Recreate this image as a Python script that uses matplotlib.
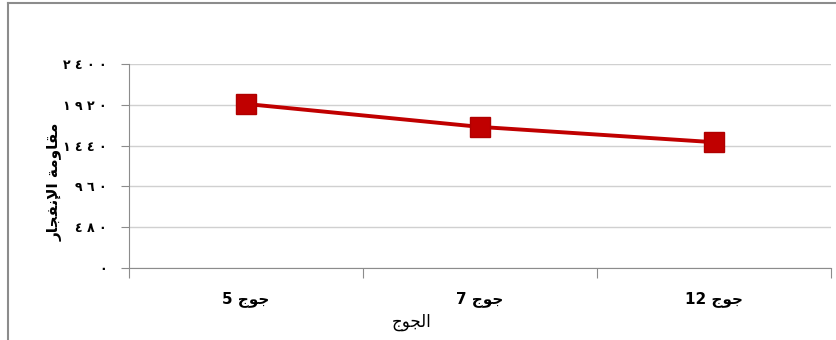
import matplotlib
matplotlib.use("Agg")
import matplotlib.pyplot as plt
from matplotlib.lines import Line2D

# Arabic strings are written in visual order with presentation forms,
# since matplotlib does no shaping / bidi on its own
JOJ = "\uFE9D\uFEEE\uFE9F"  # جوج
categories = ["5 " + JOJ, "7 " + JOJ, "12 " + JOJ]
values = [1930, 1660, 1480]
y_ticks = [0, 480, 960, 1440, 1920, 2400]
y_tick_labels = ["٠", "٤ ٨ ٠", "٩ ٦ ٠", "١ ٤ ٤ ٠", "١ ٩ ٢ ٠", "٢ ٤ ٠ ٠"]
x_title = "\uFE9D\uFEEE\uFEA0\uFEDF\uFE8D"  # الجوج
y_title = ("\uFEAD\uFE8E\uFEA0\uFED4\uFEE7\uFEF9\uFE8D" + " "
           + "\uFE94\uFEE3\uFEED\uFE8E\uFED8\uFEE3")  # مقاومة الإنفجار

plt.rcParams['font.family'] = ['DejaVu Sans']

fig = plt.figure(figsize=(8.37, 3.40), dpi=100)
ax = fig.add_axes([129/837, 1 - 268/340, (831 - 129)/837, (268 - 64)/340])

# outer chart frame: only its left and top edges fall inside the picture
fx, fy = 8/837, 1 - 3/340
fig.lines.append(Line2D([fx, fx], [0, fy], transform=fig.transFigure,
                        color='#8c8c8c', linewidth=1.5))
fig.lines.append(Line2D([fx, 1], [fy, fy], transform=fig.transFigure,
                        color='#8c8c8c', linewidth=1.5))

x = list(range(len(categories)))
ax.plot(x, values, color='#c00000', linewidth=2.8, marker='s', markersize=14,
        markerfacecolor='#c00000', markeredgecolor='#b00000', zorder=3)

ax.set_xlim(-0.5, len(categories) - 0.5)
ax.set_ylim(0, 2400)
ax.set_yticks(y_ticks)
ax.set_yticklabels(y_tick_labels, fontsize=9, fontweight='bold')
ax.yaxis.grid(True, color='#d0d0d0', linewidth=1)
ax.set_axisbelow(True)

# boundaries between categories get the tick marks, labels sit in between
ax.set_xticks([i - 0.5 for i in range(len(categories) + 1)])
ax.set_xticklabels([])
ax.set_xticks(x, minor=True)
ax.set_xticklabels(categories, minor=True, fontsize=11, fontweight='bold')
ax.tick_params(axis='x', which='major', length=7, color='#8c8c8c')
ax.tick_params(axis='x', which='minor', length=0, pad=17)
ax.tick_params(axis='y', length=6, color='#8c8c8c', pad=10)

for side in ['top', 'right']:
    ax.spines[side].set_visible(False)
for side in ['left', 'bottom']:
    ax.spines[side].set_color('#8c8c8c')

fig.text(55/837, 1 - 182/340, y_title, rotation=90, ha='center', va='center',
         fontsize=11, fontweight='bold')
fig.text(412/837, 1 - 322/340, x_title, ha='center', va='center',
         fontsize=12)

fig.savefig("out.png", dpi=100)
